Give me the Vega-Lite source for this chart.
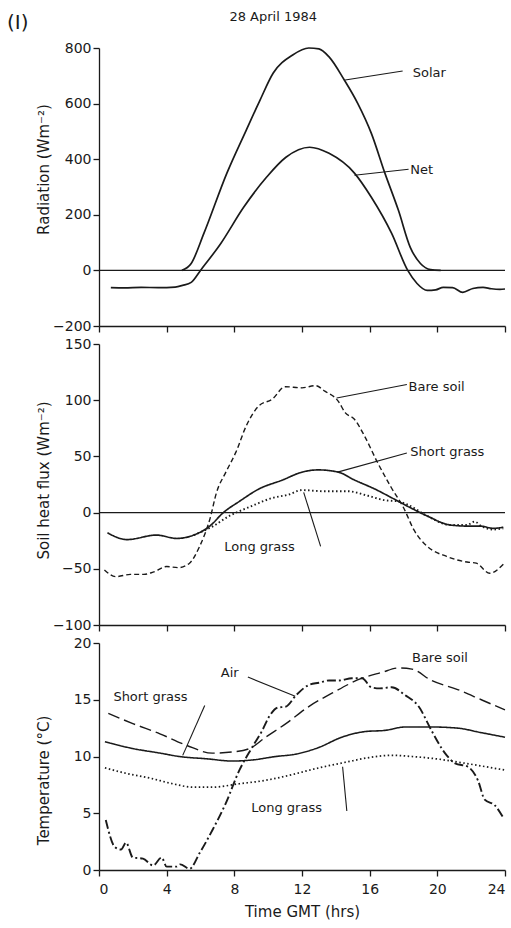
{
  "$schema": "https://vega.github.io/schema/vega-lite/v6.json",
  "background": "white",
  "padding": {"left": 7, "top": 10, "right": 0, "bottom": 2},
  "bounds": "flush",
  "spacing": 18,
  "resolve": {"scale": {"strokeDash": "independent", "strokeWidth": "independent"}},
  "config": {
    "view": {"stroke": null},
    "font": "DejaVu Sans",
    "axis": {
      "grid": false,
      "domainColor": "#1a1a1a", "tickColor": "#1a1a1a", "labelColor": "#1a1a1a", "titleColor": "#1a1a1a",
      "labelFont": "DejaVu Sans", "titleFont": "DejaVu Sans",
      "labelFontSize": 14, "titleFontSize": 15, "titleFontWeight": "normal",
      "domainWidth": 1.3, "tickWidth": 1.3, "tickSize": 6
    },
    "axisY": {"tickSize": 6, "labelPadding": 2, "titleX": -56, "titleAlign": "center", "titleBaseline": "middle", "titleAngle": -90},
    "text": {"font": "DejaVu Sans", "fontSize": 13, "color": "#1a1a1a"},
    "rule": {"color": "#1a1a1a"}
  },
  "datasets": {
    "radiation": [
      {"hour": 4.9, "value": 0, "series": "Solar"},
      {"hour": 5.45, "value": 25, "series": "Solar"},
      {"hour": 6.2, "value": 133, "series": "Solar"},
      {"hour": 7.56, "value": 350, "series": "Solar"},
      {"hour": 8.7, "value": 504, "series": "Solar"},
      {"hour": 9.5, "value": 610, "series": "Solar"},
      {"hour": 10.3, "value": 710, "series": "Solar"},
      {"hour": 11.45, "value": 775, "series": "Solar"},
      {"hour": 12.4, "value": 800, "series": "Solar"},
      {"hour": 13.0, "value": 797, "series": "Solar"},
      {"hour": 13.6, "value": 768, "series": "Solar"},
      {"hour": 14.5, "value": 685, "series": "Solar"},
      {"hour": 15.3, "value": 600, "series": "Solar"},
      {"hour": 16.1, "value": 493, "series": "Solar"},
      {"hour": 16.9, "value": 350, "series": "Solar"},
      {"hour": 17.7, "value": 216, "series": "Solar"},
      {"hour": 18.4, "value": 83, "series": "Solar"},
      {"hour": 19.0, "value": 25, "series": "Solar"},
      {"hour": 19.6, "value": 3, "series": "Solar"},
      {"hour": 20.2, "value": 0, "series": "Solar"},
      {"hour": 0.7, "value": -62, "series": "Net"},
      {"hour": 1.5, "value": -63, "series": "Net"},
      {"hour": 2.5, "value": -61, "series": "Net"},
      {"hour": 3.5, "value": -62, "series": "Net"},
      {"hour": 4.5, "value": -60, "series": "Net"},
      {"hour": 4.94, "value": -54, "series": "Net"},
      {"hour": 5.45, "value": -43, "series": "Net"},
      {"hour": 6.0, "value": 0, "series": "Net"},
      {"hour": 7.2, "value": 97, "series": "Net"},
      {"hour": 8.55, "value": 227, "series": "Net"},
      {"hour": 9.9, "value": 335, "series": "Net"},
      {"hour": 11.05, "value": 407, "series": "Net"},
      {"hour": 12.45, "value": 443, "series": "Net"},
      {"hour": 13.6, "value": 421, "series": "Net"},
      {"hour": 15.1, "value": 350, "series": "Net"},
      {"hour": 16.1, "value": 263, "series": "Net"},
      {"hour": 17.3, "value": 133, "series": "Net"},
      {"hour": 18.25, "value": 0, "series": "Net"},
      {"hour": 18.8, "value": -47, "series": "Net"},
      {"hour": 19.4, "value": -72, "series": "Net"},
      {"hour": 19.9, "value": -70, "series": "Net"},
      {"hour": 20.35, "value": -61, "series": "Net"},
      {"hour": 20.9, "value": -62, "series": "Net"},
      {"hour": 21.5, "value": -79, "series": "Net"},
      {"hour": 22.1, "value": -65, "series": "Net"},
      {"hour": 22.7, "value": -61, "series": "Net"},
      {"hour": 23.2, "value": -66, "series": "Net"},
      {"hour": 23.7, "value": -68, "series": "Net"},
      {"hour": 24.0, "value": -67, "series": "Net"}
    ],
    "flux": [
      {"hour": 0.32, "value": -51, "series": "Bare soil"},
      {"hour": 1.0, "value": -57, "series": "Bare soil"},
      {"hour": 1.85, "value": -55, "series": "Bare soil"},
      {"hour": 2.65, "value": -55, "series": "Bare soil"},
      {"hour": 3.2, "value": -53, "series": "Bare soil"},
      {"hour": 4.0, "value": -48, "series": "Bare soil"},
      {"hour": 4.7, "value": -49, "series": "Bare soil"},
      {"hour": 5.35, "value": -45, "series": "Bare soil"},
      {"hour": 5.95, "value": -30, "series": "Bare soil"},
      {"hour": 6.55, "value": -6, "series": "Bare soil"},
      {"hour": 6.95, "value": 18, "series": "Bare soil"},
      {"hour": 7.5, "value": 36, "series": "Bare soil"},
      {"hour": 8.1, "value": 54, "series": "Bare soil"},
      {"hour": 8.7, "value": 77, "series": "Bare soil"},
      {"hour": 9.45, "value": 95, "series": "Bare soil"},
      {"hour": 10.25, "value": 101, "series": "Bare soil"},
      {"hour": 11.0, "value": 112, "series": "Bare soil"},
      {"hour": 12.0, "value": 111, "series": "Bare soil"},
      {"hour": 12.8, "value": 113, "series": "Bare soil"},
      {"hour": 13.35, "value": 108, "series": "Bare soil"},
      {"hour": 14.15, "value": 99, "series": "Bare soil"},
      {"hour": 14.55, "value": 89, "series": "Bare soil"},
      {"hour": 15.1, "value": 83, "series": "Bare soil"},
      {"hour": 15.7, "value": 68, "series": "Bare soil"},
      {"hour": 16.45, "value": 45, "series": "Bare soil"},
      {"hour": 17.25, "value": 23, "series": "Bare soil"},
      {"hour": 18.05, "value": 3, "series": "Bare soil"},
      {"hour": 18.6, "value": -15, "series": "Bare soil"},
      {"hour": 19.4, "value": -30, "series": "Bare soil"},
      {"hour": 20.55, "value": -39, "series": "Bare soil"},
      {"hour": 21.75, "value": -44, "series": "Bare soil"},
      {"hour": 22.3, "value": -45, "series": "Bare soil"},
      {"hour": 23.1, "value": -54, "series": "Bare soil"},
      {"hour": 23.9, "value": -46, "series": "Bare soil"},
      {"hour": 0.5, "value": -18, "series": "Short grass"},
      {"hour": 1.65, "value": -24, "series": "Short grass"},
      {"hour": 3.4, "value": -20, "series": "Short grass"},
      {"hour": 4.6, "value": -23, "series": "Short grass"},
      {"hour": 5.6, "value": -20, "series": "Short grass"},
      {"hour": 6.55, "value": -12, "series": "Short grass"},
      {"hour": 7.35, "value": 0, "series": "Short grass"},
      {"hour": 8.3, "value": 10, "series": "Short grass"},
      {"hour": 9.45, "value": 21, "series": "Short grass"},
      {"hour": 10.85, "value": 29, "series": "Short grass"},
      {"hour": 12.0, "value": 36, "series": "Short grass"},
      {"hour": 12.95, "value": 38, "series": "Short grass"},
      {"hour": 14.15, "value": 36, "series": "Short grass"},
      {"hour": 15.1, "value": 29, "series": "Short grass"},
      {"hour": 16.3, "value": 21, "series": "Short grass"},
      {"hour": 17.45, "value": 12, "series": "Short grass"},
      {"hour": 18.45, "value": 4, "series": "Short grass"},
      {"hour": 19.4, "value": -3, "series": "Short grass"},
      {"hour": 20.75, "value": -11, "series": "Short grass"},
      {"hour": 21.75, "value": -12, "series": "Short grass"},
      {"hour": 22.55, "value": -12, "series": "Short grass"},
      {"hour": 23.3, "value": -14, "series": "Short grass"},
      {"hour": 23.9, "value": -13, "series": "Short grass"},
      {"hour": 5.6, "value": -20, "series": "Long grass"},
      {"hour": 6.75, "value": -12, "series": "Long grass"},
      {"hour": 7.7, "value": -3, "series": "Long grass"},
      {"hour": 8.9, "value": 5, "series": "Long grass"},
      {"hour": 10.25, "value": 13, "series": "Long grass"},
      {"hour": 11.2, "value": 16, "series": "Long grass"},
      {"hour": 12.0, "value": 20, "series": "Long grass"},
      {"hour": 13.35, "value": 19, "series": "Long grass"},
      {"hour": 14.7, "value": 19, "series": "Long grass"},
      {"hour": 15.9, "value": 15, "series": "Long grass"},
      {"hour": 16.9, "value": 11, "series": "Long grass"},
      {"hour": 17.65, "value": 10, "series": "Long grass"},
      {"hour": 18.25, "value": 7, "series": "Long grass"},
      {"hour": 19.4, "value": -3, "series": "Long grass"},
      {"hour": 20.75, "value": -11, "series": "Long grass"},
      {"hour": 21.75, "value": -11, "series": "Long grass"},
      {"hour": 22.2, "value": -8, "series": "Long grass"},
      {"hour": 22.6, "value": -12, "series": "Long grass"},
      {"hour": 23.3, "value": -15, "series": "Long grass"},
      {"hour": 23.9, "value": -14, "series": "Long grass"}
    ],
    "temp": [
      {"hour": 0.55, "value": 13.8, "series": "Bare soil"},
      {"hour": 2.0, "value": 12.9, "series": "Bare soil"},
      {"hour": 3.6, "value": 12.0, "series": "Bare soil"},
      {"hour": 5.15, "value": 11.0, "series": "Bare soil"},
      {"hour": 6.7, "value": 10.3, "series": "Bare soil"},
      {"hour": 7.9, "value": 10.4, "series": "Bare soil"},
      {"hour": 8.9, "value": 10.7, "series": "Bare soil"},
      {"hour": 9.85, "value": 11.7, "series": "Bare soil"},
      {"hour": 11.05, "value": 12.9, "series": "Bare soil"},
      {"hour": 12.4, "value": 14.4, "series": "Bare soil"},
      {"hour": 13.8, "value": 15.6, "series": "Bare soil"},
      {"hour": 15.55, "value": 16.9, "series": "Bare soil"},
      {"hour": 16.7, "value": 17.4, "series": "Bare soil"},
      {"hour": 17.7, "value": 17.8, "series": "Bare soil"},
      {"hour": 18.5, "value": 17.7, "series": "Bare soil"},
      {"hour": 19.65, "value": 16.7, "series": "Bare soil"},
      {"hour": 21.2, "value": 15.9, "series": "Bare soil"},
      {"hour": 22.6, "value": 15.0, "series": "Bare soil"},
      {"hour": 24.0, "value": 14.1, "series": "Bare soil"},
      {"hour": 0.35, "value": 11.3, "series": "Short grass"},
      {"hour": 2.0, "value": 10.7, "series": "Short grass"},
      {"hour": 3.6, "value": 10.3, "series": "Short grass"},
      {"hour": 4.75, "value": 10.0, "series": "Short grass"},
      {"hour": 6.35, "value": 9.8, "series": "Short grass"},
      {"hour": 7.9, "value": 9.6, "series": "Short grass"},
      {"hour": 9.1, "value": 9.7, "series": "Short grass"},
      {"hour": 10.45, "value": 10.0, "series": "Short grass"},
      {"hour": 11.6, "value": 10.2, "series": "Short grass"},
      {"hour": 13.0, "value": 10.8, "series": "Short grass"},
      {"hour": 14.35, "value": 11.7, "series": "Short grass"},
      {"hour": 15.75, "value": 12.2, "series": "Short grass"},
      {"hour": 16.9, "value": 12.3, "series": "Short grass"},
      {"hour": 18.1, "value": 12.6, "series": "Short grass"},
      {"hour": 19.65, "value": 12.6, "series": "Short grass"},
      {"hour": 21.2, "value": 12.5, "series": "Short grass"},
      {"hour": 22.6, "value": 12.1, "series": "Short grass"},
      {"hour": 24.0, "value": 11.7, "series": "Short grass"},
      {"hour": 0.35, "value": 9.0, "series": "Long grass"},
      {"hour": 1.65, "value": 8.5, "series": "Long grass"},
      {"hour": 3.0, "value": 8.1, "series": "Long grass"},
      {"hour": 4.35, "value": 7.6, "series": "Long grass"},
      {"hour": 5.55, "value": 7.3, "series": "Long grass"},
      {"hour": 6.7, "value": 7.3, "series": "Long grass"},
      {"hour": 8.3, "value": 7.6, "series": "Long grass"},
      {"hour": 9.85, "value": 7.9, "series": "Long grass"},
      {"hour": 11.4, "value": 8.4, "series": "Long grass"},
      {"hour": 13.0, "value": 9.0, "series": "Long grass"},
      {"hour": 14.6, "value": 9.5, "series": "Long grass"},
      {"hour": 15.95, "value": 9.9, "series": "Long grass"},
      {"hour": 17.3, "value": 10.1, "series": "Long grass"},
      {"hour": 18.5, "value": 10.0, "series": "Long grass"},
      {"hour": 19.9, "value": 9.8, "series": "Long grass"},
      {"hour": 21.65, "value": 9.4, "series": "Long grass"},
      {"hour": 24.0, "value": 8.8, "series": "Long grass"},
      {"hour": 0.4, "value": 4.4, "series": "Air"},
      {"hour": 0.95, "value": 2.0, "series": "Air"},
      {"hour": 1.3, "value": 1.8, "series": "Air"},
      {"hour": 1.6, "value": 2.4, "series": "Air"},
      {"hour": 2.0, "value": 1.1, "series": "Air"},
      {"hour": 2.6, "value": 1.0, "series": "Air"},
      {"hour": 3.2, "value": 0.4, "series": "Air"},
      {"hour": 3.7, "value": 1.1, "series": "Air"},
      {"hour": 4.0, "value": 0.3, "series": "Air"},
      {"hour": 4.6, "value": 0.3, "series": "Air"},
      {"hour": 4.8, "value": 0.5, "series": "Air"},
      {"hour": 5.35, "value": 0.1, "series": "Air"},
      {"hour": 5.95, "value": 1.5, "series": "Air"},
      {"hour": 6.7, "value": 3.5, "series": "Air"},
      {"hour": 7.5, "value": 5.9, "series": "Air"},
      {"hour": 8.3, "value": 8.8, "series": "Air"},
      {"hour": 9.05, "value": 10.8, "series": "Air"},
      {"hour": 9.65, "value": 12.3, "series": "Air"},
      {"hour": 10.05, "value": 13.5, "series": "Air"},
      {"hour": 10.55, "value": 14.3, "series": "Air"},
      {"hour": 11.05, "value": 14.4, "series": "Air"},
      {"hour": 11.65, "value": 15.4, "series": "Air"},
      {"hour": 12.4, "value": 16.3, "series": "Air"},
      {"hour": 13.0, "value": 16.5, "series": "Air"},
      {"hour": 13.6, "value": 16.7, "series": "Air"},
      {"hour": 14.2, "value": 16.7, "series": "Air"},
      {"hour": 14.95, "value": 16.9, "series": "Air"},
      {"hour": 15.55, "value": 16.9, "series": "Air"},
      {"hour": 16.1, "value": 16.1, "series": "Air"},
      {"hour": 16.6, "value": 16.0, "series": "Air"},
      {"hour": 17.3, "value": 16.1, "series": "Air"},
      {"hour": 18.1, "value": 15.4, "series": "Air"},
      {"hour": 18.9, "value": 14.4, "series": "Air"},
      {"hour": 19.65, "value": 12.3, "series": "Air"},
      {"hour": 20.45, "value": 10.3, "series": "Air"},
      {"hour": 21.05, "value": 9.4, "series": "Air"},
      {"hour": 21.8, "value": 9.1, "series": "Air"},
      {"hour": 22.4, "value": 7.9, "series": "Air"},
      {"hour": 22.8, "value": 6.2, "series": "Air"},
      {"hour": 23.4, "value": 5.7, "series": "Air"},
      {"hour": 23.9, "value": 4.6, "series": "Air"}
    ],
    "radLabels": [
      {"text": "Solar", "hour": 18.55, "value": 710},
      {"text": "Net", "hour": 18.4, "value": 362}
    ],
    "radArrows": [
      {"hour": 17.95, "value": 717, "hour2": 14.55, "value2": 685},
      {"hour": 18.3, "value": 364, "hour2": 15.1, "value2": 342}
    ],
    "fluxLabels": [
      {"text": "Bare soil", "hour": 18.3, "value": 112},
      {"text": "Short grass", "hour": 18.4, "value": 54},
      {"text": "Long grass", "hour": 7.4, "value": -31}
    ],
    "fluxArrows": [
      {"hour": 18.2, "value": 114, "hour2": 14.05, "value2": 102},
      {"hour": 18.2, "value": 53, "hour2": 14.1, "value2": 36},
      {"hour": 13.1, "value": -30, "hour2": 12.1, "value2": 18}
    ],
    "tempLabels": [
      {"text": "Air", "hour": 7.2, "value": 17.4},
      {"text": "Bare soil", "hour": 18.5, "value": 18.7},
      {"text": "Short grass", "hour": 0.85, "value": 15.2},
      {"text": "Long grass", "hour": 9.0, "value": 5.5}
    ],
    "tempArrows": [
      {"hour": 8.8, "value": 17.0, "hour2": 11.6, "value2": 15.3},
      {"hour": 6.25, "value": 14.5, "hour2": 4.95, "value2": 10.1},
      {"hour": 14.65, "value": 5.2, "hour2": 14.4, "value2": 9.1}
    ],
    "panelTag": [
      {"text": "(I)", "hour": -4.8, "value": 890}
    ],
    "dateTag": [
      {"text": "28 April 1984", "hour": 10.3, "value": 912}
    ]
  },
  "vconcat": [
    {
      "width": 406,
      "height": 278,
      "encoding": {
        "x": {"field": "hour", "type": "quantitative", "scale": {"domain": [0, 24], "nice": false, "zero": false},
              "axis": {"values": [0, 4, 8, 12, 16, 20, 24], "labels": false, "title": null}},
        "y": {"field": "value", "type": "quantitative", "scale": {"domain": [-200, 800], "nice": false},
              "axis": {"values": [-200, 0, 200, 400, 600, 800], "title": "Radiation (Wm⁻²)", "titleY": 121}}
      },
      "layer": [
        {"data": {"values": [{"value": 0}]}, "mark": {"type": "rule", "strokeWidth": 1.2}, "encoding": {"x": null}},
        {"data": {"name": "radiation"}, "mark": {"type": "line", "strokeWidth": 1.7, "color": "#1a1a1a", "interpolate": "monotone"},
         "encoding": {"detail": {"field": "series"}}},
        {"data": {"name": "radArrows"}, "mark": {"type": "rule", "strokeWidth": 1.1},
         "encoding": {"x2": {"field": "hour2"}, "y2": {"field": "value2"}}},
        {"data": {"name": "radLabels"}, "mark": {"type": "text", "align": "left", "baseline": "middle"},
         "encoding": {"text": {"field": "text"}}},
        {"data": {"name": "panelTag"}, "mark": {"type": "text", "align": "center", "baseline": "middle", "fontSize": 20},
         "encoding": {"text": {"field": "text"}}},
        {"data": {"name": "dateTag"}, "mark": {"type": "text", "align": "center", "baseline": "middle", "fontSize": 13},
         "encoding": {"text": {"field": "text"}}}
      ]
    },
    {
      "width": 406,
      "height": 281,
      "encoding": {
        "x": {"field": "hour", "type": "quantitative", "scale": {"domain": [0, 24], "nice": false, "zero": false},
              "axis": {"values": [0, 4, 8, 12, 16, 20, 24], "labels": false, "title": null}},
        "y": {"field": "value", "type": "quantitative", "scale": {"domain": [-100, 150], "nice": false},
              "axis": {"values": [-100, -50, 0, 50, 100, 150], "title": "Soil heat flux (Wm⁻²)", "titleY": 136}}
      },
      "layer": [
        {"data": {"values": [{"value": 0}]}, "mark": {"type": "rule", "strokeWidth": 1.2}, "encoding": {"x": null}},
        {"data": {"name": "flux"}, "mark": {"type": "line", "color": "#1a1a1a", "interpolate": "monotone"},
         "encoding": {
           "detail": {"field": "series"},
           "strokeDash": {"field": "series", "type": "nominal", "legend": null,
                          "scale": {"domain": ["Bare soil", "Short grass", "Long grass"], "range": [[5, 3], [1, 0], [1.5, 2.5]]}},
           "strokeWidth": {"field": "series", "type": "nominal", "legend": null,
                           "scale": {"domain": ["Bare soil", "Short grass", "Long grass"], "range": [1.4, 1.9, 1.4]}}
         }},
        {"data": {"name": "fluxArrows"}, "mark": {"type": "rule", "strokeWidth": 1.1},
         "encoding": {"x2": {"field": "hour2"}, "y2": {"field": "value2"}}},
        {"data": {"name": "fluxLabels"}, "mark": {"type": "text", "align": "left", "baseline": "middle"},
         "encoding": {"text": {"field": "text"}}}
      ]
    },
    {
      "width": 406,
      "height": 227,
      "encoding": {
        "x": {"field": "hour", "type": "quantitative", "scale": {"domain": [0, 24], "nice": false, "zero": false},
              "axis": {"values": [0, 4, 8, 12, 16, 20, 24], "title": "Time GMT (hrs)", "labelFontSize": 14, "labelPadding": 6, "titlePadding": 8, "titleDx": -10}},
        "y": {"field": "value", "type": "quantitative", "scale": {"domain": [0, 20], "nice": false},
              "axis": {"values": [0, 5, 10, 15, 20], "title": "Temperature (°C)", "titleY": 137}}
      },
      "layer": [
        {"data": {"name": "temp"}, "mark": {"type": "line", "color": "#1a1a1a", "interpolate": "monotone"},
         "encoding": {
           "detail": {"field": "series"},
           "strokeDash": {"field": "series", "type": "nominal", "legend": null,
                          "scale": {"domain": ["Bare soil", "Short grass", "Long grass", "Air"], "range": [[12, 5], [1, 0], [1.5, 2.5], [9, 3, 2, 3]]}},
           "strokeWidth": {"field": "series", "type": "nominal", "legend": null,
                           "scale": {"domain": ["Bare soil", "Short grass", "Long grass", "Air"], "range": [1.4, 1.9, 1.4, 1.3]}}
         }},
        {"data": {"name": "tempArrows"}, "mark": {"type": "rule", "strokeWidth": 1.1},
         "encoding": {"x2": {"field": "hour2"}, "y2": {"field": "value2"}}},
        {"data": {"name": "tempLabels"}, "mark": {"type": "text", "align": "left", "baseline": "middle"},
         "encoding": {"text": {"field": "text"}}}
      ]
    }
  ]
}
